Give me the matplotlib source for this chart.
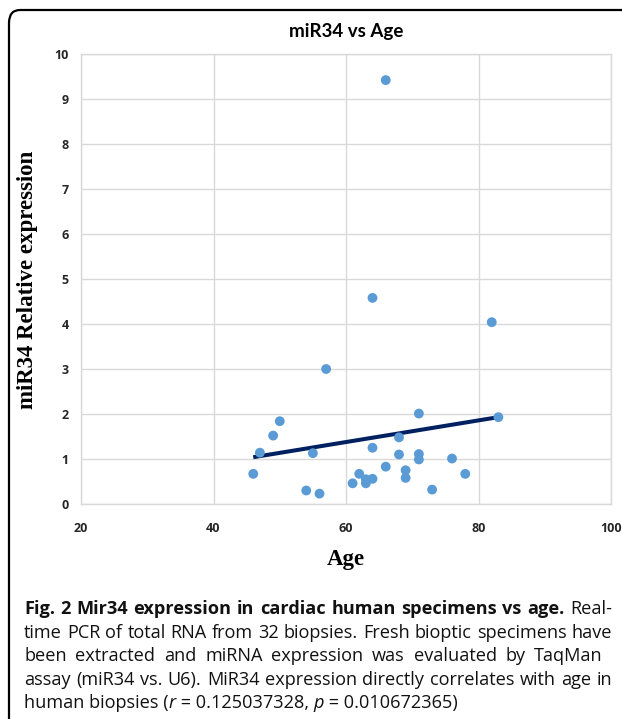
import numpy as np
import matplotlib
matplotlib.use('Agg')
import matplotlib.pyplot as plt
from matplotlib.patches import FancyBboxPatch

# data
age = [66, 64, 82, 57, 71, 83, 50, 49, 47, 55, 64, 68, 68, 71, 71, 76,
       46, 66, 62, 69, 69, 78, 64, 63, 63, 61, 54, 56, 73]
expr = [9.42, 4.58, 4.04, 3.0, 2.01, 1.93, 1.84, 1.52, 1.14, 1.13, 1.25, 1.48, 1.10, 1.11, 0.99, 1.01,
        0.67, 0.83, 0.67, 0.75, 0.58, 0.67, 0.56, 0.55, 0.46, 0.46, 0.30, 0.23, 0.32]
# linear trendline as drawn (end points)
trend_age = [46, 83]
trend_expr = [1.04, 1.93]

x_ticks = [20, 40, 60, 80, 100]
y_ticks = list(range(0, 11))

# caption runs: (text, weight, style), right edge for justified lines
caption_lines = [
    ([("Fig. 2 Mir34 expression in cardiac human specimens vs age.", "bold", "normal"), ("Real-", "normal", "normal")], 612),
    ([("time PCR of total RNA from 32 biopsies. Fresh bioptic specimens have", "normal", "normal")], 612),
    ([("been extracted and miRNA expression was evaluated by TaqMan", "normal", "normal")], 603),
    ([("assay (miR34 vs. U6). MiR34 expression directly correlates with age in", "normal", "normal")], 612),
    ([("human biopsies (", "normal", "normal"), ("r", "normal", "italic"), (" = 0.125037328, ", "normal", "normal"),
      ("p", "normal", "italic"), (" = 0.010672365)", "normal", "normal")], None),
]

W, H = 622, 719
fig = plt.figure(figsize=(W / 100, H / 100), dpi=100)

# rounded frame round the figure panel
frame = FancyBboxPatch((9 / W, -0.2), 1.2, 1 - 10 / H + 0.2,
                       boxstyle="round,pad=0,rounding_size=0.018",
                       transform=fig.transFigure, fill=False, edgecolor='black', linewidth=1.6)
fig.patches.append(frame)

ax = fig.add_axes([81 / W, 1 - 504 / H, (611 - 81) / W, (504 - 54) / H])
grid_c = '#d9d9d9'
ax.set_xlim(20, 100)
ax.set_ylim(0, 10)
ax.set_xticks(x_ticks)
ax.set_yticks(y_ticks)
ax.grid(True, color=grid_c, linewidth=1)
ax.set_axisbelow(True)
for s in ax.spines.values():
    s.set_color(grid_c)
    s.set_linewidth(1)
ax.tick_params(length=0, labelsize=9, colors='#262626')
ax.tick_params(axis='x', pad=13)
ax.tick_params(axis='y', pad=9)
for lab in ax.get_xticklabels() + ax.get_yticklabels():
    lab.set_fontweight('bold')
    lab.set_fontfamily('Open Sans')

ax.plot(trend_age, trend_expr, color='#002060', linewidth=2.9, solid_capstyle='butt', zorder=2)
ax.scatter(age, expr, s=50, color='#5b9bd5', edgecolors='none', zorder=3)

ax.set_title('miR34 vs Age', fontsize=13.5, fontweight='bold', family='Lato', pad=12)
fig.text(28 / W, 1 - 280 / H, 'miR34 Relative expression', rotation=90, ha='center', va='center',
         fontsize=16.5, fontweight='bold', family='Liberation Serif')
fig.text(346 / W, 1 - 560 / H, 'Age', ha='center', va='center',
         fontsize=16.5, fontweight='bold', family='Liberation Serif')

# caption, drawn word by word (justified lines) or run by run
renderer = fig.canvas.get_renderer()
cap_kw = dict(ha='left', va='center', fontsize=13.1, family='Open Sans', color='#111111')
x0, y0 = 24, 609
for i, (runs, right) in enumerate(caption_lines):
    ypx = y0 + i * 23.6
    xpx = x0
    if right is None:
        for txt, wt, st in runs:
            t = fig.text(xpx / W, 1 - ypx / H, txt, fontweight=wt, fontstyle=st, **cap_kw)
            xpx += t.get_window_extent(renderer).width
        continue
    words = [(w, wt, st) for txt, wt, st in runs for w in txt.split()]
    items = []
    for w, wt, st in words:
        t = fig.text(0, 1 - ypx / H, w, fontweight=wt, fontstyle=st, **cap_kw)
        items.append((t, t.get_window_extent(renderer).width))
    gap = (right - x0 - sum(wd for _, wd in items)) / (len(items) - 1)
    for t, wd in items:
        t.set_x(xpx / W)
        xpx += wd + gap

fig.savefig('out.png', dpi=100)
